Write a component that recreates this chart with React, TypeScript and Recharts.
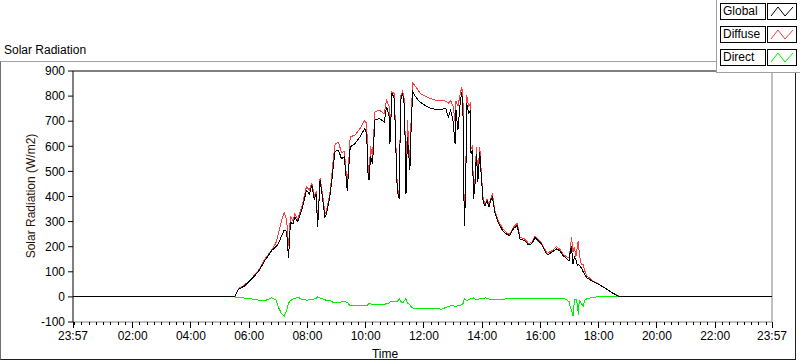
import { LineChart, Line, XAxis, YAxis, ReferenceLine } from "recharts";

// sample times (local clock), axis runs from 23:57 to 23:57 next day
const times = [
  "23:57", "05:30", "05:38", "05:51", "06:05", "06:19", "06:32", "06:46", "06:55", "07:00",
  "07:06", "07:12", "07:17", "07:21", "07:25", "07:30", "07:34", "07:40", "07:48", "07:58",
  "08:04", "08:09", "08:14", "08:18", "08:21", "08:26", "08:31", "08:36", "08:39", "08:46",
  "08:50", "08:53", "08:57", "09:04", "09:10", "09:16", "09:22", "09:28", "09:38", "09:48",
  "09:58", "10:02", "10:05", "10:07", "10:10", "10:14", "10:19", "10:28", "10:38", "10:43",
  "10:48", "10:50", "10:54", "10:59", "11:02", "11:05", "11:09", "11:12", "11:16", "11:20",
  "11:23", "11:26", "11:31", "11:34", "11:37", "11:42", "11:48", "11:52", "12:00", "12:09",
  "12:23", "12:37", "12:45", "12:50", "12:55", "13:00", "13:04", "13:06", "13:10", "13:15",
  "13:18", "13:21", "13:23", "13:26", "13:28", "13:32", "13:35", "13:37", "13:40", "13:42",
  "13:45", "13:48", "13:51", "13:55", "13:58", "14:02", "14:06", "14:10", "14:14", "14:17",
  "14:21", "14:26", "14:33", "14:42", "14:50", "14:57", "15:04", "15:12", "15:18", "15:28",
  "15:35", "15:42", "15:49", "15:55", "16:02", "16:09", "16:14", "16:23", "16:33", "16:40",
  "16:47", "16:53", "16:59", "17:02", "17:04", "17:07", "17:10", "17:13", "17:16", "17:18",
  "17:20", "17:24", "17:28", "17:31", "17:35", "17:41", "17:45", "17:57", "18:13", "18:27",
  "18:44", "23:57",
];

const globalW = [
  0, 0, 31, 44, 71, 101, 144, 184, 200, 211,
  240, 266, 262, 157, 297, 290, 317, 300, 344, 424,
  410, 444, 390, 410, 277, 464, 395, 317, 331, 397,
  460, 517, 580, 584, 551, 557, 424, 597, 611, 637,
  671, 650, 480, 464, 560, 530, 704, 711, 697, 757,
  720, 611, 811, 791, 600, 424, 391, 784, 811, 760,
  411, 637, 504, 700, 817, 800, 784, 777, 766, 755,
  747, 747, 751, 717, 744, 700, 611, 744, 664, 780,
  817, 700, 284, 415, 771, 731, 740, 571, 584, 391,
  444, 571, 457, 577, 484, 377, 364, 384, 357, 384,
  397, 337, 297, 264, 250, 244, 271, 284, 231, 224,
  208, 211, 237, 224, 211, 184, 168, 177, 191, 184,
  164, 155, 144, 190, 197, 131, 160, 150, 124, 130,
  125, 117, 100, 90, 77, 70, 64, 53, 35, 17,
  0, 0,
];

const diffuseW = [
  0, 0, 33, 48, 74, 105, 150, 186, 215, 250,
  300, 335, 310, 204, 320, 305, 330, 310, 355, 440,
  425, 455, 400, 420, 285, 472, 410, 330, 340, 410,
  480, 545, 610, 616, 575, 580, 440, 637, 645, 670,
  704, 690, 510, 490, 600, 560, 737, 744, 730, 784,
  760, 630, 817, 810, 620, 440, 400, 800, 820, 780,
  420, 704, 520, 740, 851, 840, 824, 811, 803, 793,
  784, 784, 780, 771, 782, 760, 700, 780, 760, 810,
  837, 760, 300, 440, 804, 760, 770, 590, 600, 410,
  460, 597, 480, 597, 500, 390, 370, 390, 365, 390,
  408, 345, 305, 272, 256, 250, 278, 293, 238, 230,
  214, 216, 243, 230, 216, 190, 174, 183, 200, 190,
  170, 160, 155, 200, 237, 180, 200, 160, 200, 224,
  170, 130, 128, 105, 85, 75, 67, 55, 36, 18,
  0, 0,
];

const directW = [
  0, 0, -2, -5, -8, -13, -16, -3, -12, -40,
  -65, -77, -55, -24, -15, -8, -6, -1, -9, -13,
  -12, -11, -8, -5, 0, -5, -7, -12, -13, -15,
  -18, -24, -24, -22, -20, -19, -22, -36, -35, -36,
  -36, -36, -30, -24, -28, -30, -31, -32, -31, -26,
  -24, -21, -18, -18, -19, -19, -7, -18, -24, -15,
  -7, -24, -30, -40, -44, -45, -46, -45, -45, -45,
  -46, -49, -42, -38, -36, -36, -37, -37, -35, -33,
  -31, -25, -7, -12, -15, -12, -8, -6, -5, -4,
  -8, -12, -10, -7, -7, -6, -4, -5, -8, -10,
  -12, -10, -9, -9, -8, -7, -7, -5, -5, -5,
  -5, -5, -5, -5, -5, -5, -5, -5, -8, -6,
  -7, -10, -19, -48, -50, -76, -13, -8, -30, -70,
  -13, -25, -37, -13, -8, -5, -3, 0, 0, 0,
  0, 0,
];

const hourLabels = [
  "23:57", "02:00", "04:00", "06:00", "08:00", "10:00", "12:00",
  "14:00", "16:00", "18:00", "20:00", "22:00", "23:57",
];

const yTicks = [-100, 0, 100, 200, 300, 400, 500, 600, 700, 800, 900];

// minutes after 23:57
const toOffset = (t: string, last: boolean) => {
  const [h, m] = t.split(":").map(Number);
  let o = (h * 60 + m - 1437 + 1440) % 1440;
  if (last && o === 0) o = 1440;
  return o;
};

const data = times.map((t, i) => ({
  x: toOffset(t, i === times.length - 1),
  global: globalW[i],
  diffuse: diffuseW[i],
  direct: directW[i],
}));

const majorTicks = hourLabels.map((t, i) => toOffset(t, i === hourLabels.length - 1));
const minorTicks: number[] = [];
for (let o = 3; o < 1440; o += 15) minorTicks.push(o);
const xTicks = Array.from(new Set([...majorTicks, ...minorTicks])).sort((a, b) => a - b);

const FONT = "'Liberation Sans', Arial, sans-serif";

function TimeTick(props: any) {
  const { x, y, payload } = props;
  const idx = majorTicks.indexOf(payload.value);
  const major = idx >= 0;
  return (
    <g>
      <line x1={x} x2={x} y1={y} y2={y + (major ? 6 : 3)} stroke="#000" shapeRendering="crispEdges" />
      {major && (
        <text x={x} y={y + 18} textAnchor="middle" fontSize={12} fontFamily={FONT} fill="#000">
          {hourLabels[idx]}
        </text>
      )}
    </g>
  );
}

const legendItems = [
  { name: "Global", color: "#000000" },
  { name: "Diffuse", color: "#ff3c3c" },
  { name: "Direct", color: "#00ee00" },
];

export default function App() {
  return (
    <div style={{ position: "relative", width: 800, height: 361, background: "#fff", fontFamily: FONT }}>
      <style>{`body{margin:0}`}</style>
      <div
        style={{
          position: "absolute",
          left: 0,
          top: 61,
          width: 794,
          height: 297,
          borderTop: "1px solid #a0a0a0",
          borderLeft: "1px solid #707070",
          borderRight: "1px solid #202020",
          borderBottom: "1px solid #202020",
        }}
      />
      <div style={{ position: "absolute", left: 4, top: 43, fontSize: 12, color: "#000" }}>Solar Radiation</div>
      <div style={{ position: "absolute", left: 0, top: 0 }}>
        <LineChart width={800} height={361} data={data} margin={{ top: 71, right: 28, bottom: 0, left: 0 }}>
          <XAxis
            dataKey="x"
            type="number"
            domain={[0, 1440]}
            ticks={xTicks}
            interval={0}
            tick={<TimeTick />}
            tickLine={false}
            tickSize={0}
            tickMargin={0}
            axisLine={{ stroke: "#808080" }}
            height={39}
            label={{
              value: "Time",
              content: () => (
                <text x={385} y={358} textAnchor="middle" fontSize={12} fontFamily={FONT} fill="#000">
                  Time
                </text>
              ),
            }}
          />
          <YAxis
            type="number"
            domain={[-100, 900]}
            ticks={yTicks}
            interval={0}
            width={73}
            tick={{ fontSize: 12, fontFamily: FONT, fill: "#000" }}
            tickLine={{ stroke: "#000" }}
            tickSize={5}
            tickMargin={3}
            axisLine={{ stroke: "#000" }}
            label={{
              value: "Solar Radiation (W/m2)",
              content: () => (
                <text
                  x={35}
                  y={196}
                  transform="rotate(-90, 35, 196)"
                  textAnchor="middle"
                  fontSize={12}
                  fontFamily={FONT}
                  fill="#2a1408"
                >
                  Solar Radiation (W/m2)
                </text>
              ),
            }}
          />
          <ReferenceLine y={900} stroke="#000" />
          <ReferenceLine x={1440} stroke="#808080" />
          <Line type="linear" dataKey="diffuse" stroke="#ff3c3c" strokeWidth={1} dot={false} isAnimationActive={false} shapeRendering="crispEdges" />
          <Line type="linear" dataKey="direct" stroke="#00ee00" strokeWidth={1} dot={false} isAnimationActive={false} shapeRendering="crispEdges" />
          <Line type="linear" dataKey="global" stroke="#000" strokeWidth={1} dot={false} isAnimationActive={false} shapeRendering="crispEdges" />
        </LineChart>
      </div>
      <div
        style={{
          position: "absolute",
          left: 716,
          top: 0,
          width: 84,
          height: 72,
          background: "#fff",
          borderLeft: "1px solid #a0a0a0",
          borderBottom: "1px solid #a0a0a0",
        }}
      >
        {legendItems.map((it, i) => (
          <div key={it.name} style={{ position: "absolute", top: 3 + i * 23, left: 3, height: 17 }}>
            <div
              style={{
                position: "absolute",
                left: 0,
                top: 0,
                width: 42,
                height: 15,
                border: "1px solid #000",
                fontSize: 12,
                lineHeight: "15px",
                paddingLeft: 2,
                boxSizing: "content-box",
                whiteSpace: "nowrap",
              }}
            >
              {it.name}
            </div>
            <svg
              style={{ position: "absolute", left: 47, top: 0 }}
              width={31}
              height={17}
            >
              <rect x={0.5} y={0.5} width={29} height={16} fill="#fff" stroke="#000" />
              <polyline points="4,13 11,4 18,13 26,4" fill="none" stroke={it.color} />
            </svg>
          </div>
        ))}
      </div>
    </div>
  );
}
